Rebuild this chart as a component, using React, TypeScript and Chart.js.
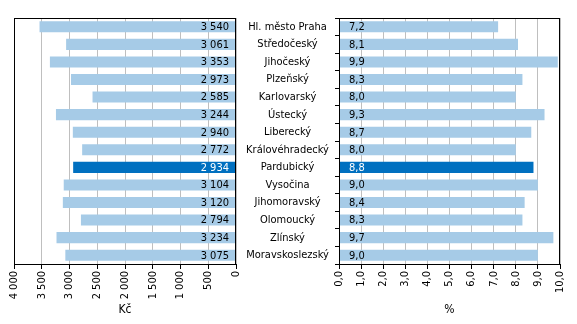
import React, { useEffect, useRef } from 'react';
import { Chart, registerables } from 'chart.js';
Chart.register(...registerables);

const regions = [
  'Hl. město Praha', 'Středočeský', 'Jihočeský', 'Plzeňský', 'Karlovarský', 'Ústecký', 'Liberecký',
  'Královéhradecký', 'Pardubický', 'Vysočina', 'Jihomoravský', 'Olomoucký', 'Zlínský', 'Moravskoslezský',
];
const amountsCzk = [3540, 3061, 3353, 2973, 2585, 3244, 2940, 2772, 2934, 3104, 3120, 2794, 3234, 3075];
const percents = [7.2, 8.1, 9.9, 8.3, 8.0, 9.3, 8.7, 8.0, 8.8, 9.0, 8.4, 8.3, 9.7, 9.0];
const highlighted = 'Pardubický';
const leftTitle = 'Kč';
const rightTitle = '%';

const FONT = 'DejaVu Sans Condensed';
const LIGHT = '#a6cbe7';
const DARK = '#0070c0';
const GRID = '#bfbfbf';

const fmtCzk = (v: number) =>
  v >= 1000 ? `${Math.floor(v / 1000)} ${String(Math.round(v % 1000)).padStart(3, '0')}` : String(v);
const fmtPct = (v: number) => v.toFixed(1).replace('.', ',');

const colors = regions.map((r) => (r === highlighted ? DARK : LIGHT));
const labelColors = regions.map((r) => (r === highlighted ? '#ffffff' : '#000000'));

const framePlugin = {
  id: 'frame',
  afterDatasetsDraw(chart: any) {
    const { ctx, chartArea } = chart;
    ctx.save();
    ctx.strokeStyle = '#000';
    ctx.lineWidth = 1;
    ctx.strokeRect(
      Math.round(chartArea.left) + 0.5,
      Math.round(chartArea.top) + 0.5,
      Math.round(chartArea.right - chartArea.left) - 1,
      Math.round(chartArea.bottom - chartArea.top)
    );
    ctx.restore();
  },
};

const makeValuePlugin = (side: 'left' | 'right', fmt: (v: number) => string) => ({
  id: 'values' + side,
  afterDatasetsDraw(chart: any) {
    const { ctx, chartArea } = chart;
    const meta = chart.getDatasetMeta(0);
    const data = chart.data.datasets[0].data as number[];
    ctx.save();
    ctx.font = `11px "${FONT}"`;
    ctx.textBaseline = 'middle';
    meta.data.forEach((bar: any, i: number) => {
      ctx.fillStyle = labelColors[i];
      if (side === 'left') {
        ctx.textAlign = 'right';
        ctx.fillText(fmt(data[i]), chartArea.right - 7, bar.y + 0.5);
      } else {
        ctx.textAlign = 'left';
        ctx.fillText(fmt(data[i]), chartArea.left + 10, bar.y + 0.5);
      }
    });
    ctx.restore();
  },
});

const fitX = (s: any) => {
  s.height = 60;
  s.paddingLeft = 0;
  s.paddingRight = 0;
};

export default function App() {
  const leftRef = useRef<HTMLCanvasElement>(null);
  const rightRef = useRef<HTMLCanvasElement>(null);

  useEffect(() => {
    const tickFont = { family: FONT, size: 11 };
    const xAxisBase = {
      grid: { color: GRID, tickColor: '#000', tickLength: 5, drawOnChartArea: true },
      border: { display: true, color: '#000' },
    };

    const left = new Chart(leftRef.current!, {
      type: 'bar',
      data: {
        labels: regions,
        datasets: [{ data: amountsCzk, backgroundColor: colors, barPercentage: 0.63, categoryPercentage: 1 }],
      },
      options: {
        responsive: false,
        animation: false,
        indexAxis: 'y',
        layout: { padding: { left: 14, right: 8, top: 18, bottom: 0 } },
        plugins: { legend: { display: false }, tooltip: { enabled: false } },
        scales: {
          x: {
            ...xAxisBase,
            min: 0,
            max: 4000,
            reverse: true,
            afterFit: fitX,
            ticks: {
              stepSize: 500,
              autoSkip: false,
              maxRotation: 90,
              minRotation: 90,
              padding: 2,
              color: '#000',
              font: tickFont,
              callback: (v: any) => fmtCzk(Number(v)),
            },
            title: { display: true, text: leftTitle, color: '#000', font: { family: FONT, size: 12 }, padding: { top: 0, bottom: 7 } },
          },
          y: { display: false },
        },
      },
      plugins: [framePlugin, makeValuePlugin('left', fmtCzk)],
    } as any);

    const mctx = document.createElement('canvas').getContext('2d')!;
    mctx.font = `11px "${FONT}"`;
    const widest = Math.max(...regions.map((r) => mctx.measureText(r).width));
    const yAxisWidth = 103;
    const tickLen = 4;
    const labelPadding = yAxisWidth / 2 - tickLen - widest / 2;

    const right = new Chart(rightRef.current!, {
      type: 'bar',
      data: {
        labels: regions,
        datasets: [{ data: percents, backgroundColor: colors, barPercentage: 0.63, categoryPercentage: 1 }],
      },
      options: {
        responsive: false,
        animation: false,
        indexAxis: 'y',
        layout: { padding: { left: 0, right: 17, top: 18, bottom: 0 } },
        plugins: { legend: { display: false }, tooltip: { enabled: false } },
        scales: {
          x: {
            ...xAxisBase,
            min: 0,
            max: 10,
            afterFit: fitX,
            ticks: {
              stepSize: 1,
              autoSkip: false,
              maxRotation: 90,
              minRotation: 90,
              padding: 2,
              color: '#000',
              font: tickFont,
              callback: (v: any) => fmtPct(Number(v)),
            },
            title: { display: true, text: rightTitle, color: '#000', font: { family: FONT, size: 12 }, padding: { top: 0, bottom: 7 } },
          },
          y: {
            afterFit: (s: any) => { s.width = yAxisWidth; s.paddingTop = 0; s.paddingBottom = 0; },
            grid: { drawOnChartArea: false, tickLength: tickLen, tickColor: '#000', offset: true },
            border: { display: true, color: '#000' },
            ticks: {
              crossAlign: 'center',
              padding: labelPadding,
              color: '#000',
              font: { family: FONT, size: 11 },
              autoSkip: false,
            },
          },
        },
      },
      plugins: [framePlugin, makeValuePlugin('right', fmtPct)],
    } as any);

    return () => {
      left.destroy();
      right.destroy();
    };
  }, []);

  return (
    <div style={{ position: 'absolute', left: 0, top: 0, width: 577, height: 324, background: '#fff' }}>
      <canvas ref={leftRef} width={244} height={324} style={{ position: 'absolute', left: 0, top: 0 }} />
      <canvas ref={rightRef} width={341} height={324} style={{ position: 'absolute', left: 236, top: 0 }} />
    </div>
  );
}
